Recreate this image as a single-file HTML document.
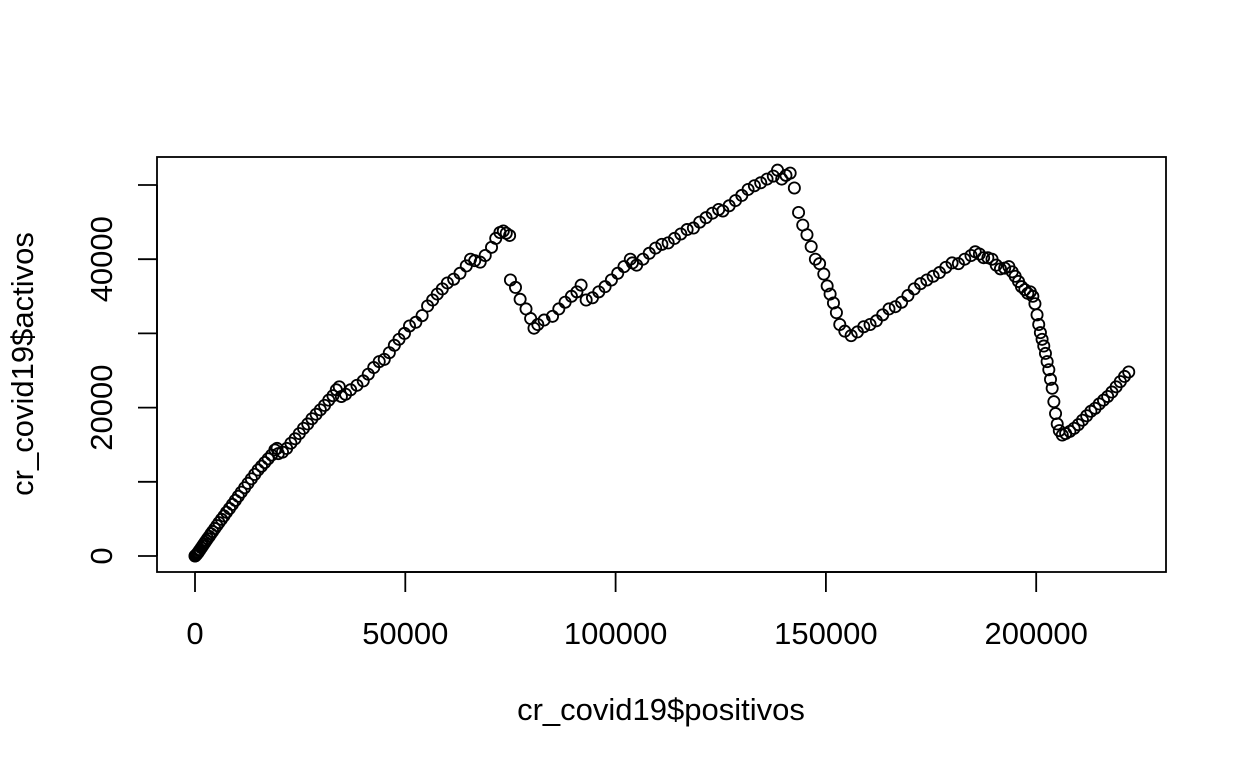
<!DOCTYPE html>
<html><head><meta charset="utf-8"><style>
html,body{margin:0;padding:0;background:#fff;}
svg text{font-family:"Liberation Sans",Arial,sans-serif;font-size:31px;fill:#000;}
</style></head><body>
<svg width="1248" height="768" xmlns="http://www.w3.org/2000/svg">
<rect x="157" y="157" width="1009" height="415" fill="none" stroke="#000" stroke-width="1.8"/>
<g id="xaxis"></g>
<g id="yaxis"></g>
<g id="pts"></g>
<text x="661" y="720" text-anchor="middle" font-size="31">cr_covid19$positivos</text>
<text transform="translate(33,364) rotate(-90)" text-anchor="middle" font-size="31">cr_covid19$activos</text>
</svg>
<script>
const xTicks=[0,50000,100000,150000,200000];
const yTicks=[0,10000,20000,30000,40000,50000];
const yLabels=["0","","20000","","40000",""];
const positivos=[0,50,100,200,300,450,600,800,1000,1200,1500,1800,2100,2400,2700,3000,3400,3800,4200,4700,5200,5700,6300,6900,7500,8200,8900,9600,10300,11000,11800,12600,13400,14200,15000,15800,16600,17400,18200,19000,19500,
19800,20800,21800,22800,23800,24800,25800,26800,27800,28800,29800,30800,31800,32800,33600,34300,34800,35800,37000,38500,40000,41200,42500,43800,45000,46200,47400,48500,49800,51000,52500,54000,55300,56500,57600,58800,60000,61500,63000,64500,65500,66500,67800,69000,70500,71500,72500,73300,74000,74800,
75000,76200,77300,78700,79800,80600,81500,83000,85000,86500,88000,89500,90800,91800,93000,94500,96000,97500,99000,100500,102000,103500,104000,105000,106500,108000,109500,111000,112500,114000,115500,117000,118500,120000,121500,123000,124500,125500,127000,128500,130000,131500,133000,134500,136000,137500,138500,139500,140500,141500,142500,143500,144500,145500,146500,147500,148500,149500,150300,151000,151800,152500,153300,154500,156000,157500,159000,160500,162000,163500,165000,166500,168000,169500,171000,172500,174000,175500,177000,178500,180000,181500,183000,184500,185500,186500,187500,188500,189500,190500,191500,192500,193500,194300,195000,195800,196500,197300,198000,198600,199200,199700,200200,200600,201000,201400,201800,202200,202600,203000,203400,203800,204200,204600,205000,205500,206200,207000,208000,209000,210000,211000,212000,213000,214000,215000,216000,217000,218000,219000,220000,221000,222000];
const activos=[0,20,50,100,180,250,380,500,700,850,1100,1350,1600,1850,2100,2350,2650,3000,3300,3700,4100,4500,4950,5400,5900,6400,6950,7500,8050,8600,9200,9800,10400,11000,11600,12100,12600,13100,13600,14300,14500,
13800,14000,14500,15200,15800,16500,17200,17800,18500,19100,19700,20300,21000,21600,22400,22800,21500,21800,22400,23000,23600,24500,25400,26200,26500,27400,28400,29200,30000,31000,31500,32400,33700,34500,35300,36000,36800,37300,38100,39100,40000,39800,39600,40500,41600,42800,43600,43800,43500,43200,
37200,36200,34600,33300,32000,30700,31200,31800,32300,33300,34200,35000,35600,36500,34500,34800,35600,36300,37200,38100,39000,40000,39500,39200,40000,40800,41500,42000,42200,42800,43400,44000,44200,45000,45600,46200,46700,46500,47200,47900,48600,49400,49900,50300,50800,51200,52000,50800,51300,51600,49600,46300,44600,43300,41700,40000,39400,38000,36400,35300,34100,32800,31200,30300,29700,30200,30900,31200,31700,32500,33300,33600,34200,35100,36000,36700,37200,37700,38200,38900,39500,39400,40000,40500,41000,40700,40200,40200,40000,39200,38700,38800,39000,38300,37700,37000,36300,35900,35400,35600,35000,34000,32500,31200,30100,29200,28300,27300,26200,25100,23800,22600,20800,19200,17800,16900,16300,16500,16800,17200,17700,18300,18900,19500,19900,20500,21000,21500,22100,22800,23500,24200,24800];
const NS="http://www.w3.org/2000/svg";
function X(v){return 195+v/50000*210.3;}
function Y(v){return 556-v/10000*74.2;}
const xa=document.getElementById('xaxis'),ya=document.getElementById('yaxis'),pg=document.getElementById('pts');
function mk(t,a,p){const e=document.createElementNS(NS,t);for(const k in a)e.setAttribute(k,a[k]);p.appendChild(e);return e;}
const xl=mk('line',{x1:X(0),x2:X(200000),y1:572,y2:572,stroke:'#000','stroke-width':1.8},xa);


xTicks.forEach(v=>{
 const l=mk('line',{x1:X(v),x2:X(v),y1:572,y2:592,stroke:'#000','stroke-width':1.8},xa);
 
 
 const t=mk('text',{x:X(v),y:644,'text-anchor':'middle','font-size':31},xa);t.textContent=String(v);
 
 
});
const yl=mk('line',{x1:157,x2:157,y1:Y(0),y2:Y(50000),stroke:'#000','stroke-width':1.8},ya);


yTicks.forEach((v,i)=>{
 const l=mk('line',{x1:138,x2:157,y1:Y(v),y2:Y(v),stroke:'#000','stroke-width':1.8},ya);
 
 
 if(yLabels[i]){const t=mk('text',{transform:`translate(112,${Y(v)}) rotate(-90)`,'text-anchor':'middle','font-size':31},ya);t.textContent=yLabels[i];
 
 }
});
positivos.forEach((p,i)=>{
 const c=mk('circle',{cx:X(p),cy:Y(activos[i]),r:5.6,fill:'none',stroke:'#000','stroke-width':1.8},pg);
 
 
});
</script>
</body></html>
